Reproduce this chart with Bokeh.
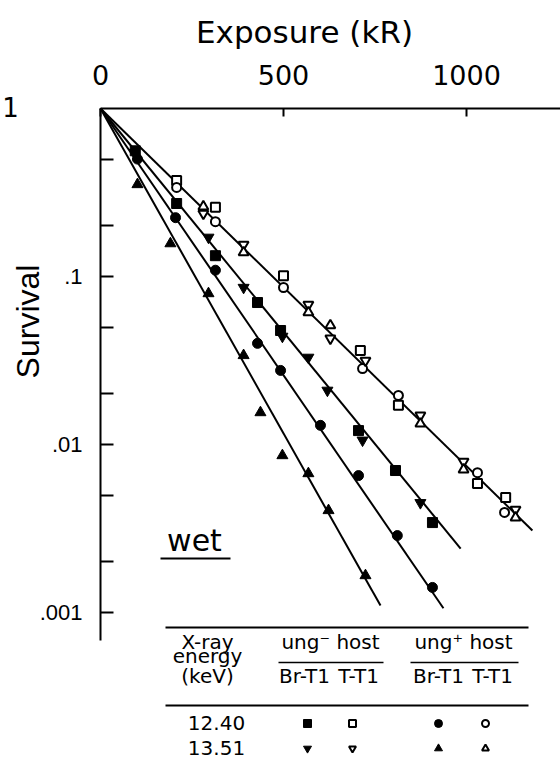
import numpy as np
from bokeh.plotting import figure
from bokeh.models import Range1d, FixedTicker, CustomJSTickFormatter, ColumnDataSource
from bokeh.core.properties import value
from bokeh.embed import file_html
from bokeh.resources import INLINE

# ---------------- data: exposure (kR) and survival ----------------
# ung- host, Br-T1, 12.40 keV (filled squares)
sq_fill_kr = [95, 208, 314, 429, 492, 705, 806, 907]
sq_fill_s = [0.56, 0.272, 0.133, 0.070, 0.0477, 0.0121, 0.0070, 0.00343]
# ung- host, T-T1, 12.40 keV (open squares)
sq_open_kr = [208, 314, 500, 710, 814, 1030, 1107]
sq_open_s = [0.373, 0.258, 0.101, 0.0363, 0.0171, 0.00586, 0.00484]
# ung+ host, Br-T1, 12.40 keV (filled circles)
ci_fill_kr = [101, 205, 314, 429, 492, 601, 705, 811, 907]
ci_fill_s = [0.50, 0.224, 0.109, 0.040, 0.0276, 0.0130, 0.00653, 0.00287, 0.00141]
# ung+ host, T-T1, 12.40 keV (open circles)
ci_open_kr = [208, 314, 500, 716, 814, 1030, 1104]
ci_open_s = [0.339, 0.212, 0.086, 0.0283, 0.0196, 0.0068, 0.00394]
# ung- host, Br-T1, 13.51 keV (filled down triangles)
dt_fill_kr = [93, 295, 391, 497, 568, 620, 716, 874]
dt_fill_s = [0.547, 0.171, 0.086, 0.044, 0.033, 0.021, 0.0106, 0.0045]
# ung- host, T-T1, 13.51 keV (open down triangles)
dt_open_kr = [281, 391, 568, 628, 724, 874, 992, 1134]
dt_open_s = [0.237, 0.155, 0.068, 0.0428, 0.0316, 0.0149, 0.00792, 0.0041]
# ung+ host, Br-T1, 13.51 keV (filled up triangles)
ut_fill_kr = [101, 191, 295, 391, 437, 497, 568, 623, 724]
ut_fill_s = [0.353, 0.157, 0.0792, 0.0339, 0.0155, 0.0086, 0.00672, 0.00405, 0.00166]
# ung+ host, T-T1, 13.51 keV (open up triangles)
ut_open_kr = [281, 391, 568, 628, 874, 992, 1134]
ut_open_s = [0.261, 0.139, 0.0611, 0.0511, 0.0133, 0.0071, 0.00367]

# fitted survival lines: all start at (0 kR, 1); end points
fit_start_kr, fit_start_s = 0, 1.0
fit_end_kr = [1180, 984, 937, 765]
fit_end_s = [0.00308, 0.0024, 0.00106, 0.0011]

x_ticks = [0, 500, 1000]
y_ticks = [0.1, 0.01, 0.001]
y_minor = [0.5, 0.2, 0.05, 0.02, 0.005, 0.002]

energies = ["12.40", "13.51"]
hosts = ["ung\u207b host", "ung\u207a host"]
phages = ["Br-T1", "T-T1", "Br-T1", "T-T1"]

# ---------------- layout helpers (pixel -> data) ----------------
X0_PX, PX_PER_KR = 100, 0.366
Y0_PX, PX_PER_DEC = 108, 168
W, H = 560, 762


def kx(px):
    return (px - X0_PX) / PX_PER_KR


def sy(py):
    return 10 ** (-(py - Y0_PX) / PX_PER_DEC)


p = figure(width=W, height=H, title=None,
           x_range=Range1d(kx(0), kx(W)), y_range=Range1d(sy(H), sy(0)),
           y_axis_type="log", x_axis_location="above", output_backend="svg",
           toolbar_location=None, min_border_left=0, min_border_right=0,
           min_border_top=0, min_border_bottom=0)
p.outline_line_color = None
p.xgrid.visible = False
p.ygrid.visible = False
p.background_fill_color = "white"
p.border_fill_color = "white"

# top axis: exposure, drawn at survival = 1
xa = p.xaxis[0]
xa.fixed_location = 1.0
xa.bounds = (0, kx(W))
xa.ticker = FixedTicker(ticks=x_ticks, minor_ticks=[])
xa.major_tick_in = 8
xa.major_tick_out = 0
xa.minor_tick_in = 0
xa.minor_tick_out = 0
xa.axis_line_width = 2
xa.major_tick_line_width = 2
xa.major_label_standoff = 24
xa.major_label_text_font = "DejaVu Sans"
xa.major_label_text_font_size = "27px"
xa.major_label_text_color = "black"

# left axis: survival, drawn at exposure = 0
ya = p.yaxis[0]
ya.fixed_location = 0
ya.bounds = (sy(640), 1.0)
ya.ticker = FixedTicker(ticks=y_ticks, minor_ticks=y_minor)
ya.formatter = CustomJSTickFormatter(code="return String(tick).replace(/^0\\./, '.');")
ya.major_tick_in = 13
ya.major_tick_out = 0
ya.minor_tick_in = 13
ya.minor_tick_out = 0
ya.axis_line_width = 2
ya.major_tick_line_width = 2
ya.minor_tick_line_width = 2
ya.major_label_standoff = 18
ya.major_label_text_font = "Liberation Sans"
ya.major_label_text_font_size = "22px"
ya.major_label_text_color = "black"

# fitted lines
for ek, es in zip(fit_end_kr, fit_end_s):
    p.line([fit_start_kr, ek], [fit_start_s, es], line_color="black", line_width=2)


def pts(xs, ys, marker, filled, size):
    p.scatter(xs, ys, marker=marker, size=size,
              fill_color="black" if filled else "white", line_color="black",
              line_width=1 if filled else 2)


pts(sq_fill_kr, sq_fill_s, "square", True, 10)
pts(ci_fill_kr, ci_fill_s, "circle", True, 10)
pts(dt_fill_kr, dt_fill_s, "inverted_triangle", True, 11)
pts(ut_fill_kr, ut_fill_s, "triangle", True, 11)
pts(sq_open_kr, sq_open_s, "square", False, 9)
pts(ci_open_kr, ci_open_s, "circle", False, 9)
pts(dt_open_kr, dt_open_s, "inverted_triangle", False, 10)
pts(ut_open_kr, ut_open_s, "triangle", False, 10)

# ---------------- legend table ----------------
rule_y = [627, 705]
for ry in rule_y:
    p.line([kx(165), kx(528)], [sy(ry), sy(ry)], line_color="black", line_width=2)
for x0, x1 in [(278, 383), (410, 518)]:
    p.line([kx(x0), kx(x1)], [sy(662), sy(662)], line_color="black", line_width=1.5)
p.line([kx(160), kx(230)], [sy(558), sy(558)], line_color="black", line_width=2)

col_x = [307, 352, 438, 485]
row_y = [723, 748]
leg_markers = [["square", "square", "circle", "circle"],
               ["inverted_triangle", "inverted_triangle", "triangle", "triangle"]]
leg_filled = [True, False, True, False]
for r, ry in enumerate(row_y):
    for c, cx in enumerate(col_x):
        pts([kx(cx)], [sy(ry)], leg_markers[r][c], leg_filled[c], 8 if leg_filled[c] else 7)

tx = [207, 207, 207, 330, 463, 304, 358, 438, 492, 216, 216]
ty = [641, 655, 675, 641, 641, 675, 675, 675, 675, 722, 747]
txt = dict(
    x=[kx(v) for v in tx],
    y=[sy(v) for v in ty],
    text=["X-ray", "energy", "(keV)", hosts[0], hosts[1], phages[0], phages[1], phages[2],
          phages[3], energies[0], energies[1]],
)
p.text(x="x", y="y", text="text", source=ColumnDataSource(txt), text_align="center",
       text_baseline="middle", text_font=value("DejaVu Sans"), text_font_size="20px",
       text_color="black")

p.text(x=[kx(194)], y=[sy(540)], text=["wet"], text_align="center",
       text_baseline="middle", text_font=value("DejaVu Sans"), text_font_size="30px",
       text_color="black")

# axis titles and the "1" beside the corner
p.text(x=[kx(304)], y=[sy(31)], text=["Exposure (kR)"], text_align="center",
       text_baseline="middle", text_font=value("DejaVu Sans"), text_font_size="31px",
       text_color="black")
p.text(x=[kx(27)], y=[sy(321)], text=["Survival"], angle=np.pi / 2, text_align="center",
       text_baseline="middle", text_font=value("Liberation Sans"), text_font_size="32px",
       text_color="black")
p.text(x=[kx(10)], y=[sy(106)], text=["1"], text_align="center",
       text_baseline="middle", text_font=value("DejaVu Sans"), text_font_size="26px",
       text_color="black")

open("out.html", "w").write(file_html(p, INLINE))
